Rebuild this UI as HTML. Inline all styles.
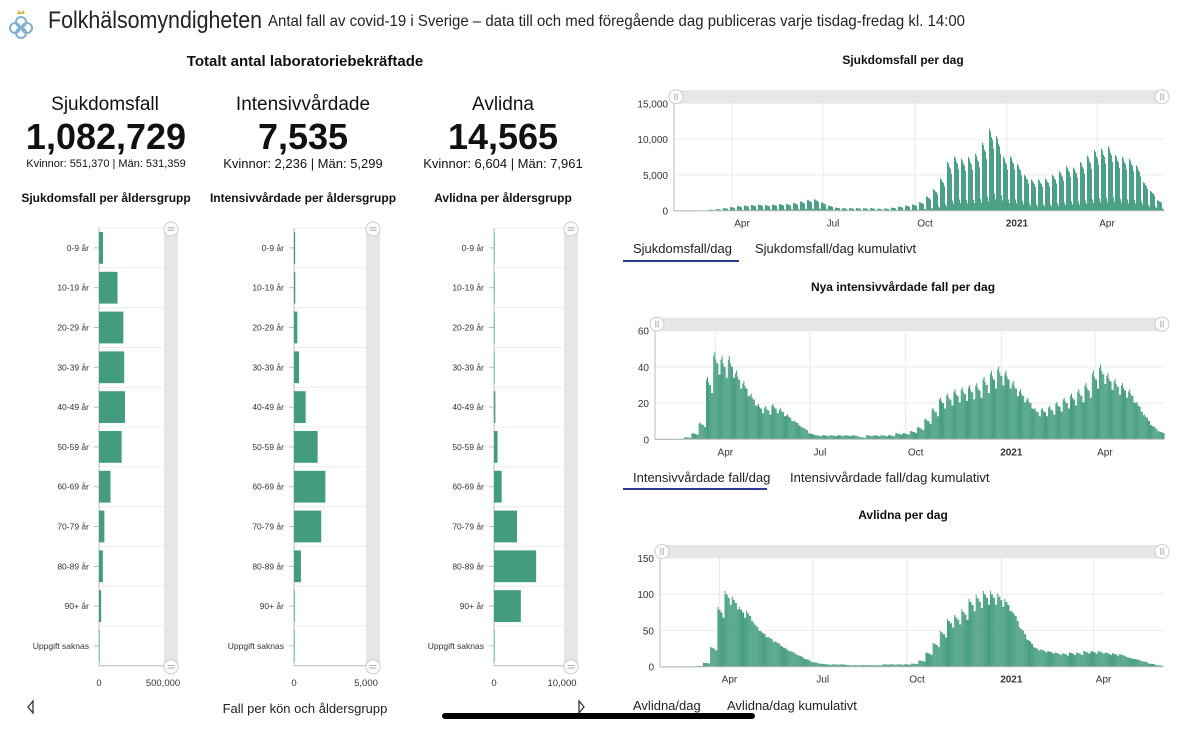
<!DOCTYPE html>
<html><head><meta charset="utf-8">
<style>
html,body{margin:0;padding:0;background:#fff;width:1200px;height:729px;overflow:hidden;font-family:"Liberation Sans",sans-serif;}
svg text{font-family:"Liberation Sans","DejaVu Sans",sans-serif;}
</style></head>
<body>
<svg id="root" width="1200" height="729" viewBox="0 0 1200 729">
  <g>
    <circle cx="21" cy="22" r="5" fill="none" stroke="#7fb0d0" stroke-width="2"/>
    <circle cx="15" cy="28" r="5" fill="none" stroke="#7fb0d0" stroke-width="2"/>
    <circle cx="27" cy="28" r="5" fill="none" stroke="#7fb0d0" stroke-width="2"/>
    <circle cx="21" cy="33" r="5" fill="none" stroke="#7fb0d0" stroke-width="2"/>
    <path d="M17 14 l2 -4 l2 3 l2 -3 l2 4 z" fill="#d9b64a"/>
  </g>
  <text x="48" y="28" font-size="24" fill="#222" textLength="214" lengthAdjust="spacingAndGlyphs">Folkhälsomyndigheten</text>
  <text x="268" y="26" font-size="16" fill="#222" textLength="697" lengthAdjust="spacingAndGlyphs">Antal fall av covid-19 i Sverige – data till och med föregående dag publiceras varje tisdag-fredag kl. 14:00</text>

  <text x="305" y="66" font-size="15" font-weight="bold" text-anchor="middle" fill="#111">Totalt antal laboratoriebekräftade</text>

  <g>
    <text x="105" y="110" font-size="19" text-anchor="middle" fill="#111">Sjukdomsfall</text>
    <text x="106" y="149" font-size="36" font-weight="bold" text-anchor="middle" fill="#111">1,082,729</text>
    <text x="106" y="167" font-size="11" text-anchor="middle" fill="#111">Kvinnor: 551,370 | Män: 531,359</text>
  </g>
  <g>
    <text x="303" y="110" font-size="19" text-anchor="middle" fill="#111">Intensivvårdade</text>
    <text x="303" y="149" font-size="36" font-weight="bold" text-anchor="middle" fill="#111">7,535</text>
    <text x="303" y="168" font-size="13" text-anchor="middle" fill="#111">Kvinnor: 2,236 | Män: 5,299</text>
  </g>
  <g>
    <text x="503" y="110" font-size="19" text-anchor="middle" fill="#111">Avlidna</text>
    <text x="503" y="149" font-size="36" font-weight="bold" text-anchor="middle" fill="#111">14,565</text>
    <text x="503" y="168" font-size="13" text-anchor="middle" fill="#111">Kvinnor: 6,604 | Män: 7,961</text>
  </g>

  <text x="106" y="202" font-size="12" font-weight="bold" text-anchor="middle" fill="#111">Sjukdomsfall per åldersgrupp</text>
  <text x="303" y="202" font-size="12" font-weight="bold" text-anchor="middle" fill="#111">Intensivvårdade per åldersgrupp</text>
  <text x="503" y="202" font-size="12" font-weight="bold" text-anchor="middle" fill="#111">Avlidna per åldersgrupp</text>

  <g id="agecharts"></g>
  <g id="tscharts"></g>

  <text x="305" y="713" font-size="13" text-anchor="middle" fill="#222">Fall per kön och åldersgrupp</text>
  <path d="M33 701 l-5 6 l5 6 z" fill="none" stroke="#333" stroke-width="1.3"/>
  <path d="M579 701 l5 6 l-5 6 z" fill="none" stroke="#333" stroke-width="1.3"/>
  <rect x="442" y="713" width="313" height="6" rx="3" fill="#000"/>

  <text x="903" y="64" font-size="12" font-weight="bold" text-anchor="middle" fill="#111">Sjukdomsfall per dag</text>
  <text x="903" y="291" font-size="12" font-weight="bold" text-anchor="middle" fill="#111">Nya intensivvårdade fall per dag</text>
  <text x="903" y="519" font-size="12" font-weight="bold" text-anchor="middle" fill="#111">Avlidna per dag</text>

  <text x="633" y="253" font-size="13" fill="#222">Sjukdomsfall/dag</text>
  <text x="755" y="253" font-size="13" fill="#222">Sjukdomsfall/dag kumulativt</text>
  <rect x="623" y="260" width="116" height="2" fill="#2b3a8c"/>
  <text x="633" y="482" font-size="13" fill="#222">Intensivvårdade fall/dag</text>
  <text x="790" y="482" font-size="13" fill="#222">Intensivvårdade fall/dag kumulativt</text>
  <rect x="623" y="488" width="144" height="2" fill="#2b3a8c"/>
  <text x="633" y="710" font-size="13" fill="#222">Avlidna/dag</text>
  <text x="727" y="710" font-size="13" fill="#222">Avlidna/dag kumulativt</text>
</svg>
<script>
const NS="http://www.w3.org/2000/svg";
const GREEN="#439c7f";
const ageGroups=["0-9 år","10-19 år","20-29 år","30-39 år","40-49 år","50-59 år","60-69 år","70-79 år","80-89 år","90+ år","Uppgift saknas"];
const ageCases=[31000,145000,190000,197000,203000,177000,90000,42000,30000,17000,3000];
const ageIcu=[80,90,230,350,810,1640,2180,1890,480,50,20];
const ageDeaths=[5,10,30,70,200,520,1130,3380,6200,3950,20];
const ageTickCases=["0","500,000"];
const ageTickIcu=["0","5,000"];
const ageTickDeaths=["0","10,000"];
const ageMaxCases=500000, ageMaxIcu=5000, ageMaxDeaths=10000;

// weekly average daily values, weeks starting Mon 3 Feb 2020
const casesWeekly=[0,0,0,5,20,100,150,250,350,450,500,550,600,550,600,650,650,750,900,1050,1100,800,500,300,250,250,250,250,250,200,220,300,400,500,600,830,1380,2070,3100,4700,5240,5030,5170,5500,6550,7900,7200,5200,5250,4500,3450,3000,3000,3100,3450,3800,4300,4150,4700,5300,5850,6000,6200,5400,5200,5000,4350,2750,1900,1000];
const casesWeekday=[1.45,1.4,1.3,1.25,1.1,0.3,0.2];
const icuWeekly=[0,0,0,0,1,3,8,30,42,40,40,33,28,22,17,16,17,15,12,9,6,3,2,2,2,2,2,2,1,2,2,2,2,3,3,4,6,10,15,20,22,24,25,26,27,30,33,35,33,28,24,20,15,15,16,18,20,22,24,27,33,36,32,29,27,24,18,12,7,4];
const icuWeekday=[1.1,1.15,1.05,1.0,1.0,0.85,0.85];
const deathsWeekly=[0,0,0,0,0,1,5,25,75,95,88,75,70,55,45,38,32,25,20,15,10,6,4,3,3,3,2,2,2,2,2,3,3,3,3,4,8,18,30,45,60,65,72,85,90,95,95,92,85,70,50,35,25,22,20,18,17,18,18,20,20,20,18,17,16,12,10,7,4,2];
const deathsWeekday=[1.1,1.05,1.05,1.0,1.0,0.9,0.9];
const monthLabels=["Apr","Jul","Oct","2021","Apr"];
const monthDays=[58,149,241,333,423]; // days since 3 Feb 2020
const casesTicks=[0,5000,10000,15000], casesTickLabels=["0","5,000","10,000","15,000"];
const icuTicks=[0,20,40,60], icuTickLabels=["0","20","40","60"];
const deathsTicks=[0,50,100,150], deathsTickLabels=["0","50","100","150"];

function el(tag,attrs,parent){const e=document.createElementNS(NS,tag);for(const k in attrs)e.setAttribute(k,attrs[k]);parent.appendChild(e);return e;}

function handle(g,cx,cy,vertical){
  const h=el("g",{},g);
  
  
  el("circle",{cx:cx,cy:cy,r:7,fill:"#fff",stroke:"#ccc","stroke-width":1},h);
  if(vertical){el("line",{x1:cx-3.5,y1:cy-1.2,x2:cx+3.5,y2:cy-1.2,stroke:"#aaa","stroke-width":1},h);el("line",{x1:cx-3.5,y1:cy+1.2,x2:cx+3.5,y2:cy+1.2,stroke:"#aaa","stroke-width":1},h);}
  else{el("line",{x1:cx-1.2,y1:cy-3.5,x2:cx-1.2,y2:cy+3.5,stroke:"#aaa","stroke-width":1},h);el("line",{x1:cx+1.2,y1:cy-3.5,x2:cx+1.2,y2:cy+3.5,stroke:"#aaa","stroke-width":1},h);}
}

function ageChart(name,x0,pxMax,max,values,ticks,labelX,scrollX){
  const root=document.getElementById("agecharts");
  const g=el("g",{},root);
  
  
  const top=228,rowH=39.8,n=ageGroups.length,bottom=top+rowH*n;
  const sx=v=>x0+v/max*pxMax;
  const sc=el("rect",{x:scrollX,y:top,width:14,height:bottom-top+2,fill:"#e6e6e6"},g);
  
  
  for(let i=0;i<=n;i++){el("line",{x1:x0,x2:scrollX,y1:top+i*rowH,y2:top+i*rowH,stroke:"#ececec","stroke-width":1},g);}
  el("line",{x1:x0,x2:x0,y1:top,y2:bottom,stroke:"#bbb","stroke-width":1},g);
  el("line",{x1:x0,x2:scrollX,y1:bottom,y2:bottom,stroke:"#bbb","stroke-width":1},g);
  ageGroups.forEach((lab,i)=>{
    const cy=top+i*rowH+rowH/2;
    const t=el("text",{x:labelX,y:cy+3,"font-size":"8.5","text-anchor":"end",fill:"#333"},g);
    t.textContent=lab;
    
    
    el("line",{x1:x0-5,x2:x0,y1:cy,y2:cy,stroke:"#bbb"},g);
    const w=Math.max(0.6,sx(values[i])-x0);
    const b=el("rect",{x:x0,y:top+i*rowH+4,width:w,height:rowH-8,fill:GREEN},g);
    
    
  });
  [0,max].forEach((v,i)=>{
    const t=el("text",{x:sx(v),y:bottom+20,"font-size":"9.5","text-anchor":"middle",fill:"#333"},g);
    t.textContent=ticks[i];
    
    
  });
  handle(g,scrollX+7,top+1,true);
  handle(g,scrollX+7,bottom+1,true);
}
ageChart("age-chart-cases",99,64,ageMaxCases,ageCases,ageTickCases,89,164);
ageChart("age-chart-icu",294,72,ageMaxIcu,ageIcu,ageTickIcu,284,366);
ageChart("age-chart-deaths",494,68,ageMaxDeaths,ageDeaths,ageTickDeaths,484,564);

function tsChart(name,x0,x1,pxPerDay,yTop,y0,maxV,weekly,weekday,ticks,tickLabels){
  const root=document.getElementById("tscharts");
  const g=el("g",{},root);
  
  
  const sx=d=>x0+d*pxPerDay;
  const sy=v=>y0-(v/maxV)*(y0-yTop);
  ticks.forEach((v,i)=>{
    el("line",{x1:x0,x2:x1,y1:sy(v),y2:sy(v),stroke:"#ececec"},g);
    const t=el("text",{x:x0-6,y:sy(v)+4,"font-size":"10","text-anchor":"end",fill:"#333"},g);
    t.textContent=tickLabels[i];
    
    
  });
  monthDays.forEach((d,i)=>{
    el("line",{x1:sx(d),x2:sx(d),y1:yTop,y2:y0,stroke:"#e8e8e8"},g);
    const t=el("text",{x:sx(d)+10,y:y0+16,"font-size":"10","text-anchor":"middle",fill:"#333","font-weight":monthLabels[i]==="2021"?"bold":"normal"},g);
    t.textContent=monthLabels[i];
    
    
  });
  const bars=el("g",{},g);
  
  
  weekly.forEach((w,wi)=>{
    for(let k=0;k<7;k++){
      const d=wi*7+k;
      const v=w*weekday[k];
      const x=sx(d);
      if(x>x1)continue;
      const y=sy(v);
      const b=el("rect",{x:x,y:y,width:pxPerDay*0.95,height:Math.max(0.5,y0-y),fill:GREEN},bars);
      
      
    }
  });
  el("line",{x1:x0,x2:x0,y1:yTop,y2:y0,stroke:"#bbb"},g);
  el("line",{x1:x0,x2:x1,y1:y0,y2:y0,stroke:"#bbb"},g);
  const sb=el("rect",{x:x0-2,y:yTop-13,width:x1-x0+4,height:13,rx:6.5,fill:"#e6e6e6"},g);
  
  
  handle(g,x0+2,yTop-6.5,false);
  handle(g,x1-2,yTop-6.5,false);
}
tsChart("cases-per-day-chart",674,1164,1.0,103.3,210.7,15000,casesWeekly,casesWeekday,casesTicks,casesTickLabels);
tsChart("icu-per-day-chart",655,1164,1.04,330.7,439.3,60,icuWeekly,icuWeekday,icuTicks,icuTickLabels);
tsChart("deaths-per-day-chart",660,1164,1.025,558,666.7,150,deathsWeekly,deathsWeekday,deathsTicks,deathsTickLabels);
</script>
</body></html>
